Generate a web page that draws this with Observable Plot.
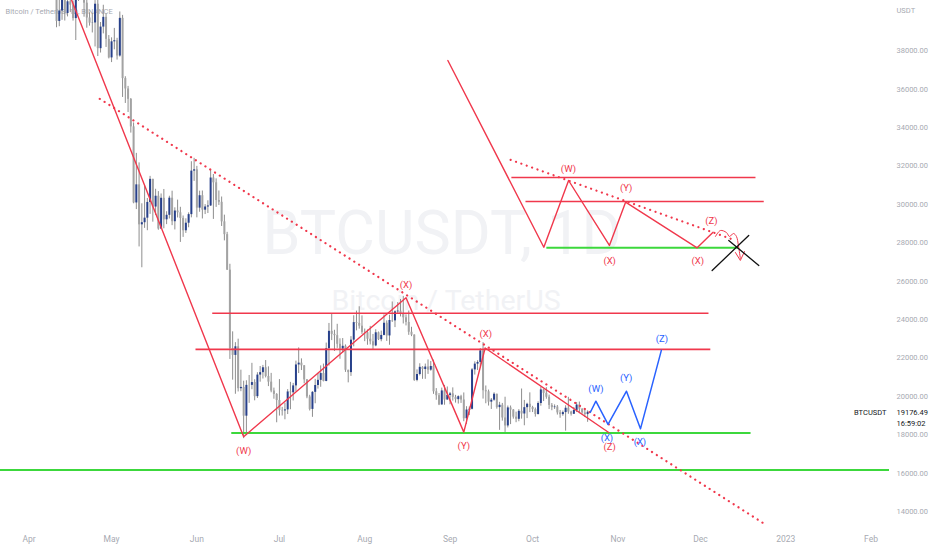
<!DOCTYPE html>
<html>
<head>
<meta charset="utf-8">
<script src="https://cdn.jsdelivr.net/npm/d3@7"></script>
<script src="https://cdn.jsdelivr.net/npm/@observablehq/plot@0.6"></script>
<style>
  html, body { margin: 0; padding: 0; background: #fff; }
  #chart { width: 932px; height: 550px; overflow: hidden; }
</style>
</head>
<body>
<div id="chart"></div>
<script>
// BTCUSDT daily candles, Binance, from 2022-04-01 to 2022-10-22
const firstDay = "2022-04-01";
const opens = [
  45510,46283,45811,46407,46580,45497,43170,43444,42252,42753,42158,39530,40074,41147,39942,40552,40378,39678,40801,41493,41358,40480,39709,39441,39450,40426,38112,39235,39742,38596,
  37630,38468,38525,37728,39690,36552,36013,35472,34038,30076,31018,28936,29047,29283,30102,31305,29862,30425,28716,30319,29198,29432,30323,29098,29655,29562,29268,28627,29020,29468,31734,
  31801,29805,30452,29700,29865,29919,31374,31125,30204,30110,29091,28424,26575,22487,22136,22584,20401,20468,18970,20574,20574,20720,19987,21110,21237,21492,21038,20743,20278,20104,
  19785,19269,19243,19297,20231,20190,20548,21637,21731,21592,20860,19970,19323,20212,20569,20836,21190,20779,22485,23389,23231,23164,22714,22465,22609,21361,21239,22930,23843,23804,23656,
  23336,23314,22978,22846,22630,23313,22954,23175,23810,23149,23954,23934,24403,24441,24305,24094,23854,23342,23191,20834,21140,21515,21399,21529,21368,21559,20241,20037,19555,20285,19811,
  20050,20131,19951,19831,19986,19812,18837,19290,19329,21381,21680,21769,22370,20296,20241,19701,19803,20113,19417,19538,18875,18461,19401,19289,18920,18807,19222,19084,19413,19591,
  19422,19310,19057,19630,20337,20158,19956,19530,19416,19446,19141,19051,19157,19382,19185,19068,19268,19550,19334,19139,19053,19172
];
const highs = [
  46720,47213,47444,46890,47200,45507,43900,43970,42800,43410,42414,40699,41561,41500,40870,40709,40595,41116,41760,42199,42976,40795,39980,39940,40616,40797,39474,40372,39925,38795,
  38675,39167,38651,40023,39845,36650,36146,35514,34243,32659,32162,30032,30976,30308,31460,31308,30788,30666,30545,30777,29618,30426,30688,29821,30223,29850,29396,29250,29560,32222,32399,
  31982,30690,30698,29988,30189,31765,31556,31330,30700,30385,29440,28544,26882,23362,22800,22980,21365,20792,20815,21090,21723,20868,21233,21558,21614,21868,21540,21200,20432,20142,
  20876,19430,19647,20354,20730,20676,21838,22527,21955,21607,20880,20058,20250,20889,21200,21589,21683,22777,23800,24276,23444,23756,23000,23014,22682,21361,23112,24199,24442,24668,24194,
  23509,23463,23647,23227,23472,23354,23400,24245,23933,24226,24918,24456,24888,25047,25211,24247,24446,23600,23208,21382,21700,21548,21684,21900,21819,21887,20407,20150,20433,20574,20490,
  20205,20444,20055,20028,20058,20180,19464,19449,21450,21800,21860,22488,22799,20543,20330,19890,20189,20114,19690,19635,19957,19500,19500,19316,19180,19310,20385,19790,19645,20185,
  19484,19395,19719,20475,20365,20456,20068,19627,19558,19525,19268,19238,19513,19951,19227,19425,19676,19706,19360,19345,19250,19232
];
const lows = [
  44200,45620,45530,45118,45353,43121,42727,42107,42125,41868,39200,39254,39588,39551,39766,39991,39546,38536,40571,40820,39751,39177,39285,38929,38200,37702,37884,38881,38175,37578,
  37386,38052,37517,37670,35571,35258,34785,33714,30033,29730,27785,26700,28751,28630,29480,29075,29422,28654,28691,28731,28946,29240,28893,28669,29294,28020,28282,28488,28783,29300,31200,
  29300,29590,29242,29470,29525,29890,29218,29844,29944,28850,28100,26560,21925,20846,20111,20232,20246,17800,17960,19637,20348,19770,19890,20740,20906,20964,20510,20188,19854,18626,
  18975,18978,18782,19055,19305,19762,20239,21189,21347,20655,19880,19240,18910,19617,20380,20476,20755,20762,21581,22906,22341,22500,21934,22257,21250,20706,21042,22582,23414,23502,23228,
  22850,22664,22681,22435,22586,22909,22844,23154,22865,22664,23852,23583,24296,24140,23773,23671,23180,23111,20783,20761,21069,20890,20890,21145,21310,20107,19800,19520,19550,19540,19797,
  19565,19754,19652,19601,19633,18681,18540,19000,19297,21111,21350,21538,19860,19617,19497,19320,19748,19335,18232,18711,18125,18356,18531,18815,18629,18680,18816,18471,18843,19155,
  19159,18920,19028,19490,19731,19853,19320,19255,19320,19028,18860,18965,18190,19070,18975,19063,19160,19095,19072,18900,18650,19121
];
const closes = [
  46283,45811,46407,46580,45497,43170,43444,42252,42753,42158,39530,40074,41147,39942,40552,40378,39678,40801,41493,41358,40480,39709,39441,39450,40426,38112,39235,39742,38596,37630,
  38468,38525,37728,39690,36552,36013,35472,34038,30076,31018,28936,29047,29283,30102,31305,29862,30425,28716,30319,29198,29432,30323,29098,29655,29562,29268,28627,29020,29468,31734,31801,
  29805,30452,29700,29865,29919,31374,31125,30204,30110,29091,28424,26575,22487,22136,22584,20401,20468,18970,20574,20574,20720,19987,21110,21237,21492,21038,20743,20278,20104,19785,
  19269,19243,19297,20231,20190,20548,21637,21731,21592,20860,19970,19323,20212,20569,20836,21190,20779,22485,23389,23231,23164,22714,22465,22609,21361,21239,22930,23843,23804,23656,23336,
  23314,22978,22846,22630,23313,22954,23175,23810,23149,23954,23934,24403,24441,24305,24094,23854,23342,23191,20834,21140,21515,21399,21529,21368,21559,20241,20037,19555,20285,19811,20050,
  20131,19951,19831,19986,19812,18837,19290,19329,21381,21680,21769,22370,20296,20241,19701,19803,20113,19417,19538,18875,18461,19401,19289,18920,18807,19222,19084,19413,19591,19422,
  19310,19057,19630,20337,20158,19956,19530,19416,19446,19141,19051,19157,19382,19185,19068,19268,19550,19334,19139,19053,19172,19176.49
];

// Visible window of the chart
const viewStart = "2022-03-21T15:20";
const viewEnd = "2023-02-07T16:50";
const priceMin = 13276;
const priceMax = 40620;

// Axis ticks
const priceTicks = [14000,16000,18000,20000,22000,24000,26000,28000,30000,32000,34000,36000,38000];
const monthTicks = ["2022-04-01","2022-05-01","2022-06-01","2022-07-01","2022-08-01","2022-09-01","2022-10-01","2022-11-01","2022-12-01","2023-01-01","2023-02-01"];
const monthLabels = ["Apr","May","Jun","Jul","Aug","Sep","Oct","Nov","Dec","2023","Feb"];

// Elliott-wave drawing on the price history: W-X-Y-X-Z
const waveMain = [["2022-03-29",47360],["2022-06-18",17900],["2022-08-16",25140],["2022-09-06",18140],["2022-09-13T18:00",22520],["2022-10-28T16:00",18120]];
const waveMainLabels = [["2022-06-18",17180,"(W)"],["2022-08-16",25830,"(X)"],["2022-09-06",17440,"(Y)"],["2022-09-14",23260,"(X)"],["2022-10-29",17350,"(Z)"]];
// Projected path from the last close
const waveProjection = [["2022-10-22",19176],["2022-10-24",19750],["2022-10-28T10:00",18540],["2022-11-04T03:00",20270],["2022-11-09T05:00",18310],["2022-11-16T19:00",22400]];
const waveProjectionLabels = [["2022-10-24",20400,"(W)"],["2022-11-04",20950,"(Y)"],["2022-10-28",17840,"(X)"],["2022-11-09",17615,"(X)"],["2022-11-17",23000,"(Z)"]];
// Horizontal levels: [from, to, price]
const redLevels = [["2022-06-06T14:00","2022-12-03T22:00",24330],["2022-05-31T12:00","2022-12-04T14:00",22450]];
const greenLevels = [["2022-06-13T12:00","2022-12-19T05:00",18100]];
const supportLevel = 16170;
// Falling trendline (dotted)
const trendline = [["2022-04-26T17:00",35500],["2022-12-24T05:00",13365]];

// Schematic of the same pattern, drawn in the empty upper right area
const schemePath = [["2022-08-31T05:00",37495],["2022-10-05T02:00",27770],["2022-10-14T02:00",31245],["2022-10-28T22:00",27860],["2022-11-03T19:00",30115],["2022-11-29T19:00",27740],["2022-12-05T14:00",28550]];
const schemeLabels = [["2022-10-14",31850,"(W)"],["2022-10-29",27080,"(X)"],["2022-11-04",30840,"(Y)"],["2022-11-30",27030,"(X)"],["2022-12-05",29160,"(Z)"]];
const schemeRedLevels = [["2022-09-23T07:00","2022-12-21T00:00",31400],["2022-09-28T10:00","2022-12-24T00:00",30150]];
const schemeGreenLevels = [["2022-10-06T00:00","2022-12-14T19:00",27740]];
const schemeTrendline = [["2022-09-23T00:00",32320],["2022-12-12T00:00",28210]];
const schemeSquiggle = [["2022-12-06T11:00",28330],["2022-12-08T06:00",28640],["2022-12-10T11:00",28535],["2022-12-11T13:00",28330],["2022-12-13T00:00",28485],["2022-12-14T02:00",28330],["2022-12-14T19:00",27860],["2022-12-15T12:00",27180]];
const schemeArrowHead = [["2022-12-13T17:00",27495],["2022-12-15T12:00",27080],["2022-12-17T00:00",27545]];
const crossStrokes = [
  [["2022-12-05T06:00",26560],["2022-12-18T13:00",28380]],
  [["2022-12-11T07:00",28120],["2022-12-22T05:00",26820]]
];

const lastPrice = 19176.49;
const countdown = "16:59:02";

const parse = s => new Date(s.length === 10 ? s + "T00:00:00Z" : s + ":00Z");
const pts = arr => arr.map(([d, p]) => ({date: parse(d), price: p}));
const lbls = arr => arr.map(([d, p, t]) => ({date: parse(d), price: p, text: t}));
const segs = arr => arr.map(([a, b, p]) => ({x1: parse(a), x2: parse(b), price: p}));

const start = parse(firstDay);
const candles = closes.map((c, i) => ({
  date: d3.utcDay.offset(start, i),
  open: opens[i], high: highs[i], low: lows[i], close: c
}));
const labelByTime = new Map(monthTicks.map((d, i) => [+parse(d), monthLabels[i]]));

const RED = "#f0384c";
const BLUE = "#2962ff";
const GREEN = "#3cd83c";
const AXIS = "#a7aab2";
const WATERMARK = "#f1f2f5";
const FONT = "Roboto, 'Noto Sans', sans-serif";
const DOTS = {strokeDasharray: "0.1 5.6", strokeLinecap: "round"};

const hline = (data, color, width) => Plot.link(segs(data), {
  x1: "x1", x2: "x2", y1: "price", y2: "price", stroke: color, strokeWidth: width
});
const pathLine = (data, color, width, extra = {}) => Plot.line(pts(data), {
  x: "date", y: "price", stroke: color, strokeWidth: width, ...extra
});
const labelText = (data, color) => Plot.text(lbls(data), {
  x: "date", y: "price", text: "text", fill: color, fontSize: 9.5
});

const chart = Plot.plot({
  width: 932,
  height: 550,
  marginLeft: 0,
  marginRight: 43,
  marginTop: 0,
  marginBottom: 25,
  style: {fontFamily: FONT, background: "#fff", overflow: "visible"},
  x: {type: "utc", domain: [parse(viewStart), parse(viewEnd)], axis: null},
  y: {domain: [priceMin, priceMax], axis: null},
  marks: [
    // Symbol watermark
    Plot.text(["BTCUSDT, 1D"], {frameAnchor: "middle", dx: -3, dy: -29, fontSize: 61, fill: WATERMARK}),
    Plot.text(["Bitcoin / TetherUS"], {frameAnchor: "middle", dx: 1, dy: 38, fontSize: 28.5, fill: WATERMARK}),
    // Legend
    Plot.text(["Bitcoin / TetherUS, 1D, BINANCE"], {frameAnchor: "top-left", textAnchor: "start", lineAnchor: "middle", dx: 5, dy: 11, fontSize: 7.5, fill: "#a7aab2"}),

    // Candles
    Plot.ruleX(candles, {x: "date", y1: "low", y2: "high", stroke: "#8e8e8e", strokeWidth: 1, clip: "frame"}),
    Plot.ruleX(candles, {filter: d => d.close < d.open, x: "date", y1: "open", y2: "close", stroke: "#a3a3a3", strokeWidth: 2, clip: "frame"}),
    Plot.ruleX(candles, {filter: d => d.close >= d.open, x: "date", y1: "open", y2: "close", stroke: "#27408b", strokeWidth: 2, clip: "frame"}),

    // Levels
    Plot.ruleY([supportLevel], {stroke: GREEN, strokeWidth: 2}),
    hline(greenLevels, GREEN, 2),
    hline(redLevels, RED, 1.6),

    // Trendline and waves
    pathLine(trendline, RED, 2.2, {...DOTS, clip: "frame"}),
    pathLine(waveMain, RED, 1.4, {clip: "frame"}),
    pathLine(waveProjection, BLUE, 1.5),
    labelText(waveMainLabels, RED),
    labelText(waveProjectionLabels, BLUE),

    // Schematic in the upper right
    hline(schemeRedLevels, RED, 1.6),
    hline(schemeGreenLevels, GREEN, 2),
    pathLine(schemeTrendline, RED, 2.2, DOTS),
    pathLine(schemePath, RED, 1.4),
    pathLine(schemeSquiggle, RED, 1, {curve: "catmull-rom"}),
    pathLine(schemeArrowHead, RED, 1),
    labelText(schemeLabels, RED),
    ...crossStrokes.map(s => pathLine(s, "#111", 1.3)),

    // Price scale
    Plot.axisY(priceTicks, {anchor: "right", tickSize: 0, tickPadding: 7, tickFormat: d => d.toFixed(2), fill: AXIS, fontSize: 7.5, label: null}),
    Plot.text(["USDT"], {frameAnchor: "top-right", textAnchor: "start", lineAnchor: "middle", dx: 7, dy: 10, fontSize: 7.5, fill: AXIS}),
    // Time scale
    Plot.axisX(monthTicks.map(parse), {anchor: "bottom", tickSize: 0, tickPadding: 10, tickFormat: d => labelByTime.get(+d), fill: AXIS, fontSize: 8.5, label: null}),

    // Last price
    Plot.text([lastPrice], {y: d => d, frameAnchor: "right", textAnchor: "end", dx: -3, text: () => "BTCUSDT", fill: "#131722", fontSize: 7.5}),
    Plot.text([lastPrice], {y: d => d, frameAnchor: "right", textAnchor: "start", dx: 7, text: d => d.toFixed(2), fill: "#131722", fontSize: 7.5}),
    Plot.text([lastPrice], {y: d => d, frameAnchor: "right", textAnchor: "start", dx: 7, dy: 11, text: () => countdown, fill: "#131722", fontSize: 7.5})
  ]
});

document.getElementById("chart").append(chart);
</script>
</body>
</html>
